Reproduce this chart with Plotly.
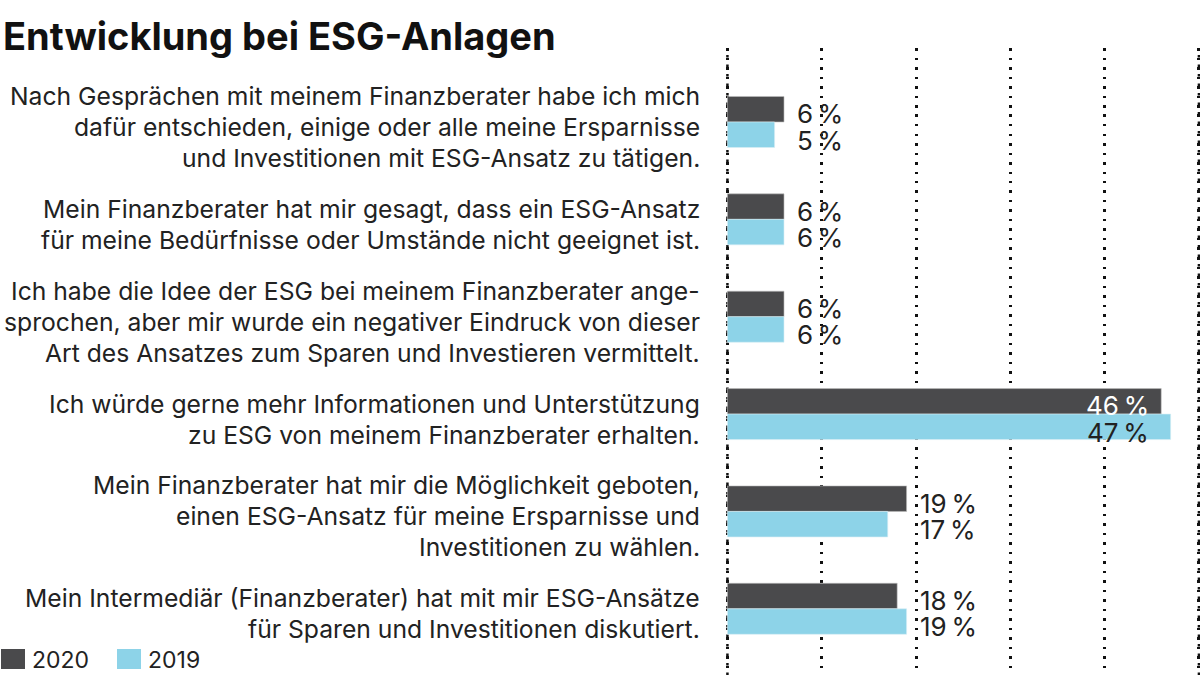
import plotly.graph_objects as go

categories = [
    "Nach Gesprächen mit meinem Finanzberater habe ich mich<br>dafür entschieden, einige oder alle meine Ersparnisse<br>und Investitionen mit ESG-Ansatz zu tätigen.",
    "Mein Finanzberater hat mir gesagt, dass ein ESG-Ansatz<br>für meine Bedürfnisse oder Umstände nicht geeignet ist.",
    "Ich habe die Idee der ESG bei meinem Finanzberater ange-<br>sprochen, aber mir wurde ein negativer Eindruck von dieser<br>Art des Ansatzes zum Sparen und Investieren vermittelt.",
    "Ich würde gerne mehr Informationen und Unterstützung<br>zu ESG von meinem Finanzberater erhalten.",
    "Mein Finanzberater hat mir die Möglichkeit geboten,<br>einen ESG-Ansatz für meine Ersparnisse und<br>Investitionen zu wählen.",
    "Mein Intermediär (Finanzberater) hat mit mir ESG-Ansätze<br>für Sparen und Investitionen diskutiert.",
]
values_2020 = [6, 6, 6, 46, 19, 18]
values_2019 = [5, 6, 6, 47, 17, 19]
series_names = ["2020", "2019"]
tick_values = [0, 10, 20, 30, 40, 50]

DARK = "#4a4a4c"
BLUE = "#8dd3e8"
TEXT = "#222222"
GRID = "#111111"
FONT = "Inter"

W, H = 1200, 675
PPU = 9.43  # pixels per percent
X_MIN = -1.0
L = int(round(727 + X_MIN * PPU))
R = 0
plot_w = W - L - R
x_range = [X_MIN, X_MIN + plot_w / PPU]
T, B = 48, 0
plot_h = H - T - B
DASH = "2.5px,7px"

ypos = list(range(len(categories)))

fig = go.Figure()
fig.add_trace(go.Bar(
    y=ypos, x=values_2020, orientation="h", name=series_names[0],
    marker=dict(color=DARK, line=dict(color="#bdbdbd", width=0.6)),
    showlegend=False, hoverinfo="skip",
))
fig.add_trace(go.Bar(
    y=ypos, x=values_2019, orientation="h", name=series_names[1],
    marker=dict(color=BLUE, line=dict(color="#d8eef5", width=0.6)),
    showlegend=False, hoverinfo="skip",
))

annotations = []
LINE_PX = 31
# category labels, one annotation per line for exact line spacing
for i, c in enumerate(categories):
    lines = c.split("<br>")
    n = len(lines)
    for k, line in enumerate(lines):
        off = (k - (n - 1) / 2) * LINE_PX
        annotations.append(dict(
            text=line, xref="x", yref="y", x=0, y=i, xanchor="right", yanchor="middle",
            xshift=-25, yshift=-5 - off, align="right", showarrow=False,
            font=dict(family=FONT, size=24.7, color=TEXT),
        ))

# value labels
bar_off = 0.135
for i in range(len(categories)):
    a, b = values_2020[i], values_2019[i]
    inside = max(a, b) > 40
    for v, off, col in ((a, -bar_off, "white"), (b, bar_off, TEXT)):
        txt = f"{v}\u2009%"
        if inside:
            annotations.append(dict(
                text=txt, xref="x", yref="y", x=min(a, b), y=i + off, xanchor="right",
                yanchor="middle", xshift=-10, yshift=-5, showarrow=False,
                font=dict(family=FONT, size=26, color=col),
            ))
        else:
            annotations.append(dict(
                text=txt, xref="x", yref="y", x=max(a, b), y=i + off, xanchor="left",
                yanchor="middle", xshift=11, yshift=-5, showarrow=False,
                font=dict(family=FONT, size=26, color=TEXT),
            ))

def px_x(p):
    return (p - L) / plot_w

def px_y(p):
    return (H - B - p) / plot_h

# title
annotations.append(dict(
    text="<b>Entwicklung bei ESG-Anlagen</b>", xref="paper", yref="paper",
    x=px_x(1), y=px_y(11), xanchor="left", yanchor="top",
    showarrow=False, font=dict(family=FONT, size=38, color="#111111"),
))

# legend (custom)
shapes = []
leg_items = [(series_names[0], DARK, 1), (series_names[1], BLUE, 117)]
for name, col, px in leg_items:
    shapes.append(dict(type="rect", xref="paper", yref="paper",
                       x0=px_x(px), x1=px_x(px + 24), y0=px_y(669), y1=px_y(649),
                       fillcolor=col, line=dict(width=0)))
    annotations.append(dict(
        text=name, xref="paper", yref="paper", x=px_x(px + 29),
        y=px_y(660), xanchor="left", yanchor="middle", showarrow=False,
        font=dict(family=FONT, size=23, color=TEXT),
    ))

# edge grid lines (plotly clips grid lines at the very plot edges)
for tv in (tick_values[0], tick_values[-1]):
    shapes.append(dict(type="line", xref="x", yref="paper", x0=tv, x1=tv, y0=0, y1=1,
                       layer="below", line=dict(color=GRID, width=2.5, dash=DASH)))

fig.update_layout(
    width=W, height=H,
    margin=dict(l=L, r=R, t=T, b=B),
    paper_bgcolor="white", plot_bgcolor="white",
    barmode="group", bargap=0.476, bargroupgap=0,
    xaxis=dict(range=x_range, tickvals=tick_values, showticklabels=False,
               showgrid=True, gridcolor=GRID, gridwidth=2.5,
               griddash=DASH, zeroline=False, showline=False),
    yaxis=dict(range=[5.68, -0.76], showticklabels=False, showgrid=False,
               zeroline=False, showline=False),
    annotations=annotations, shapes=shapes,
)

fig.write_html("out.html", config={"displayModeBar": False},
               post_script="document.body.style.margin='0';")
